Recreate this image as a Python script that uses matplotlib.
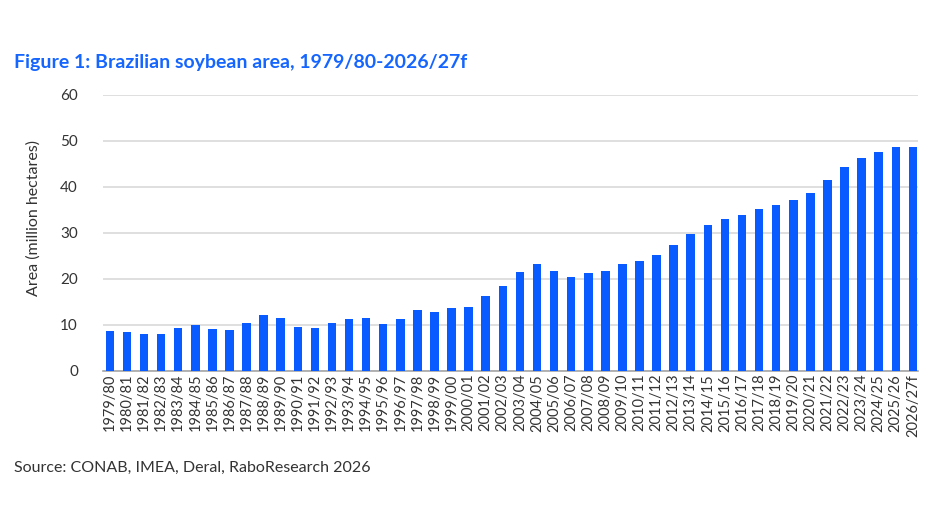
import matplotlib.pyplot as plt

seasons = ['1979/80', '1980/81', '1981/82', '1982/83', '1983/84', '1984/85', '1985/86',
           '1986/87', '1987/88', '1988/89', '1989/90', '1990/91', '1991/92', '1992/93',
           '1993/94', '1994/95', '1995/96', '1996/97', '1997/98', '1998/99', '1999/00',
           '2000/01', '2001/02', '2002/03', '2003/04', '2004/05', '2005/06', '2006/07',
           '2007/08', '2008/09', '2009/10', '2010/11', '2011/12', '2012/13', '2013/14',
           '2014/15', '2015/16', '2016/17', '2017/18', '2018/19', '2019/20', '2020/21',
           '2021/22', '2022/23', '2023/24', '2024/25', '2025/26', '2026/27f']

# million hectares
area = [8.7, 8.4, 8.1, 8.0, 9.3, 9.9, 9.1, 9.0, 10.4, 12.1, 11.5, 9.6, 9.3, 10.5,
        11.4, 11.6, 10.2, 11.4, 13.2, 12.9, 13.6, 13.9, 16.3, 18.4, 21.5, 23.3,
        21.8, 20.5, 21.2, 21.7, 23.2, 24.0, 25.2, 27.4, 29.8, 31.8, 33.1, 33.9,
        35.3, 36.1, 37.2, 38.6, 41.6, 44.4, 46.2, 47.7, 48.8, 48.8]

plt.rcParams['font.family'] = ['Lato', 'DejaVu Sans']

fig = plt.figure(figsize=(9.4, 5.3), dpi=100)
ax = fig.add_axes([0.1096, 0.30, 0.867, 0.5208])

x = range(len(seasons))
ax.bar(x, area, width=0.5, color='#0A5BFF', zorder=3)

ax.set_ylim(0, 60)
ax.set_yticks(range(0, 61, 10))
ax.set_xlim(-0.4, len(seasons) - 0.7)
ax.set_xticks(list(x))
ax.set_xticklabels(seasons, rotation=90, fontsize=10.5, color='#333333')
ax.tick_params(axis='y', labelsize=11, colors='#333333', length=0, pad=18)
ax.tick_params(axis='x', length=0, pad=2)
ax.grid(axis='y', color='#d9d9d9', linewidth=1.2, zorder=0)

for s in ['top', 'right', 'left']:
    ax.spines[s].set_visible(False)
ax.spines['bottom'].set_color('#a6a6a6')
ax.spines['bottom'].set_linewidth(1.2)

ax.set_ylabel('Area (million hectares)', fontsize=11.5, color='#333333')
ax.yaxis.set_label_coords(-0.077, 0.555)

fig.text(0.015, 0.883, 'Figure 1: Brazilian soybean area, 1979/80-2026/27f',
         fontsize=14, fontweight='bold', color='#1565FF', va='center')
fig.text(0.015, 0.117, 'Source: CONAB, IMEA, Deral, RaboResearch 2026',
         fontsize=11.5, color='#333333', va='center')

fig.savefig('out.png', dpi=100)
